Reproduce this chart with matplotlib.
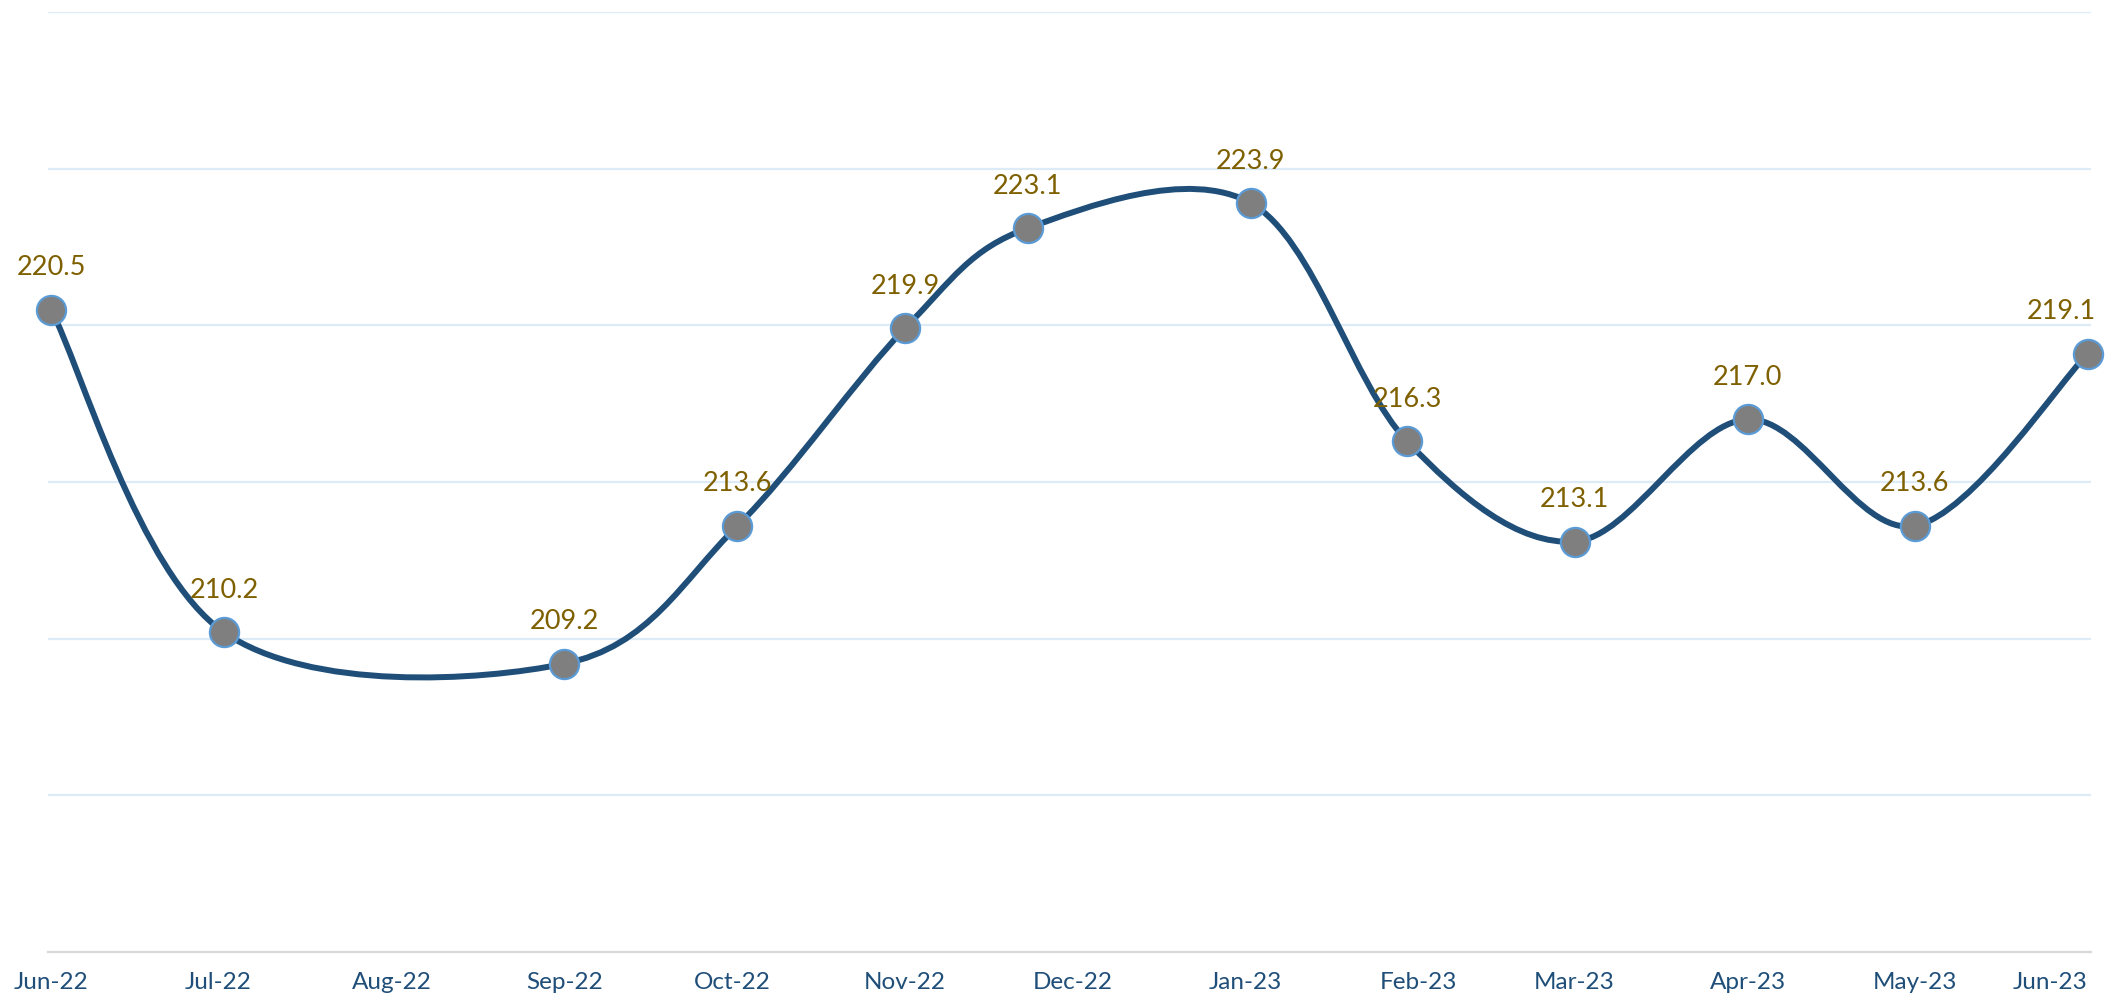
import matplotlib
matplotlib.use('Agg')
import matplotlib.pyplot as plt
import matplotlib.dates as mdates
from matplotlib.path import Path
from matplotlib.patches import PathPatch
import pandas as pd
import numpy as np

plt.rcParams['font.family'] = ['Lato', 'DejaVu Sans']

# data
dates = ['2022-06-01', '2022-07-02', '2022-09-01', '2022-10-02', '2022-11-01', '2022-11-23',
         '2023-01-02', '2023-01-30', '2023-03-01', '2023-04-01', '2023-05-01', '2023-06-01']
values = [220.5, 210.2, 209.2, 213.6, 219.9, 223.1, 223.9, 216.3, 213.1, 217.0, 213.6, 219.1]
tick_months = pd.date_range('2022-06-01', '2023-06-01', freq='MS')
tick_labels = [d.strftime('%b-%y') for d in tick_months]

line_col = '#1F4E79'
label_col = '#7F6000'

x = mdates.date2num(pd.to_datetime(dates).to_pydatetime())
y = np.array(values)

fig = plt.figure(figsize=(21.16, 10.03), dpi=100)
ax = fig.add_axes([48 / 2116, 50 / 1003, (2091 - 48) / 2116, 940 / 1003])

# Excel-style smoothed line: cubic bezier with catmull-rom control points
pts = np.column_stack([x, y])
verts = [pts[0]]
codes = [Path.MOVETO]
n = len(pts)
for i in range(n - 1):
    p0 = pts[max(i - 1, 0)]
    p1 = pts[i]
    p2 = pts[i + 1]
    p3 = pts[min(i + 2, n - 1)]
    c1 = p1 + (p2 - p0) / 6
    c2 = p2 - (p3 - p1) / 6
    verts += [c1, c2, p2]
    codes += [Path.CURVE4] * 3
ax.add_patch(PathPatch(Path(verts, codes), facecolor='none', edgecolor=line_col,
                       lw=4.3, capstyle='round', zorder=3, clip_on=False))

ax.plot(x, y, ls='none', marker='o', ms=21, mfc='#7F7F7F', mec='#5B9BD5', mew=1.6,
        zorder=4, clip_on=False)

for i, (xi, yi) in enumerate(zip(x, y)):
    ha = 'right' if i == n - 1 else 'center'
    dx = 6 if i == n - 1 else 0
    ax.annotate(f'{yi:.1f}', (xi, yi), xytext=(dx, 31), textcoords='offset points',
                ha=ha, va='center', fontsize=19.5, color=label_col, zorder=5)

ax.set_xlim(x[0] - 0.55, x[-1] + 0.55)
ax.set_ylim(200, 230)
ax.set_yticks(np.arange(200, 231, 5))
ax.set_yticklabels([])
ax.yaxis.grid(True, color='#DDEBF7', lw=1.6)
ax.set_axisbelow(True)

ax.set_xticks(mdates.date2num(tick_months.to_pydatetime()))
ax.set_xticklabels(tick_labels, fontsize=17.5, color=line_col)
ax.get_xticklabels()[-1].set_ha('right')
ax.tick_params(length=0, pad=14)

for s in ['top', 'right', 'left']:
    ax.spines[s].set_visible(False)
ax.spines['bottom'].set_color('#D9D9D9')
ax.spines['bottom'].set_linewidth(1.6)

fig.savefig('out.png', dpi=100)
